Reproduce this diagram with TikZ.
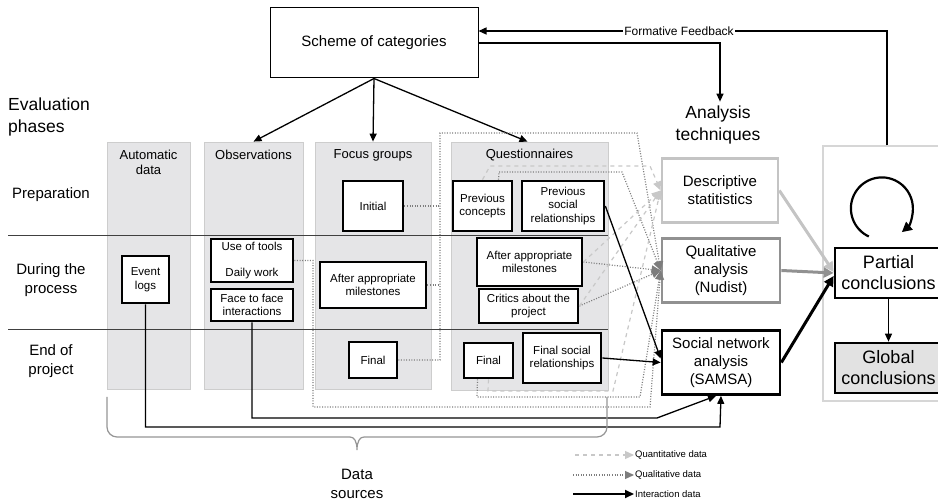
\documentclass[tikz,border=0pt]{standalone}
\usepackage{fontspec}
\setmainfont{Liberation Sans}
\usetikzlibrary{arrows.meta}
\definecolor{panelfill}{RGB}{229,229,231}
\definecolor{panelline}{RGB}{205,205,205}
\definecolor{qntc}{RGB}{200,200,200}
\definecolor{qltc}{RGB}{125,125,125}
\definecolor{descc}{RGB}{196,196,196}
\definecolor{qualc}{RGB}{145,145,145}
\definecolor{rpanel}{RGB}{214,214,214}
\definecolor{globfill}{RGB}{226,226,226}
\definecolor{bracec}{RGB}{150,150,150}
\begin{document}
\begin{tikzpicture}[x=1pt,y=-1pt,
  panel/.style={draw=panelline, line width=0.8pt, fill=panelfill, inner sep=0pt},
  ptitle/.style={font=\fontsize{13}{15}\selectfont, align=center, inner sep=0pt},
  bx/.style={draw=black, line width=2.7pt, fill=white, align=center, inner sep=1pt, font=\fontsize{11.5}{13.5}\selectfont},
  an/.style={line width=2.7pt, fill=white, align=center, inner sep=1pt, font=\fontsize{15}{18}\selectfont, minimum height=64pt},
  lbl/.style={font=\fontsize{15}{19}\selectfont, align=center, inner sep=0pt},
  hdr/.style={font=\fontsize{17.5}{22}\selectfont, inner sep=2pt},
  tip/.style={-{Triangle[length=8pt,width=7pt]}},
  qlt/.style={draw=qltc, line width=1.2pt, dash pattern=on 1pt off 1.6pt},
  qlta/.style={qlt, -{Triangle[length=9pt,width=8pt,fill=qltc]}},
  qnt/.style={draw=qntc, line width=1.2pt, dash pattern=on 4pt off 4pt},
  qnta/.style={qnt, -{Triangle[length=9pt,width=8pt,fill=qntc]}},
  ia/.style={draw=black, line width=1.3pt, -{Triangle[length=8pt,width=7pt]}},
  lgd/.style={font=\fontsize{9.5}{11}\selectfont, inner sep=1pt, anchor=west}
]
\fill[white] (0,0) rectangle (938,502);
\useasboundingbox (0,0) rectangle (938,502);

% ---------- top ----------
\node[draw=black, line width=1pt, minimum width=208pt, minimum height=70pt, font=\fontsize{15}{18}\selectfont] (scheme) at (374,43) {Scheme of categories};
\node[hdr, align=left, anchor=west] (evph) at (6,117) {Evaluation\\phases};
\node[hdr, align=center, inner sep=4pt] (atech) at (718,125) {Analysis\\techniques};

% ---------- panels ----------
\node[panel, minimum width=83pt, minimum height=247pt] (pAuto) at (148.5,265.5) {};
\node[panel, minimum width=99pt, minimum height=247pt] (pObs) at (253.5,265.5) {};
\node[panel, minimum width=116pt, minimum height=247pt] (pFocus) at (373,265.5) {};
\node[panel, minimum width=157pt, minimum height=248pt] (pQuest) at (529.5,266) {};
\node[ptitle] (tAuto) at (148.5,162.5) {Automatic\\data};
\node[ptitle] (tObs) at (253.5,155) {Observations};
\node[ptitle] (tFocus) at (373,155) {Focus groups};
\node[ptitle] (tQuest) at (529.5,155) {Questionnaires};

% phase separators
\draw[black!75, line width=0.9pt] (8,235) -- (608,235);
\draw[black!75, line width=0.9pt] (8,329) -- (608,329);
\node[lbl] (lPrep) at (51,195) {Preparation};
\node[lbl] (lDur) at (51,280) {During the\\process};
\node[lbl] (lEnd) at (51,361) {End of\\project};

% scheme arrows
\draw[line width=1.3pt, tip] (scheme.south) -- (pObs.north);
\draw[line width=1.3pt, tip] (scheme.south) -- (pFocus.north);
\draw[line width=1.3pt, tip] (scheme.south) -- ([xshift=-2pt]pQuest.north);

% ---------- analysis side ----------
\node[draw=rpanel, line width=1.2pt, fill=white, minimum width=122pt, minimum height=255pt] (rp) at (884,273.5) {};
\node[an, draw=descc, minimum width=116pt] (desc) at (720,190.5) {Descriptive\\statitistics};
\node[an, draw=qualc, minimum width=118pt] (qual) at (721,270.5) {Qualitative\\analysis\\(Nudist)};
\node[an, draw=black, minimum width=118pt] (sna) at (721,362.5) {Social network\\analysis\\(SAMSA)};
\node[draw=black, line width=2.7pt, fill=white, minimum width=107pt, minimum height=50pt, align=center, inner sep=1pt, font=\fontsize{18}{21}\selectfont] (partial) at (888.5,273) {Partial\\conclusions};
\node[draw=black, line width=2.7pt, fill=globfill, minimum width=107pt, minimum height=50pt, align=center, inner sep=1pt, font=\fontsize{18}{21}\selectfont] (global) at (888.5,368) {Global\\conclusions};

% feedback loops
\coordinate (fbR) at (887,31);
\draw[line width=1.3pt, tip] (rp.north -| fbR) -- (fbR) -- (scheme.east |- fbR);
\node[fill=white, inner sep=1pt, font=\fontsize{12}{14}\selectfont] (fbl) at (679,31) {Formative Feedback};
\draw[line width=1.3pt, tip] (scheme.east) -| ([xshift=2pt]atech.north);

% self loop
\draw[line width=2.2pt, -{Triangle[length=10pt,width=10pt]}] (868.8,236.5) arc[start angle=245, end angle=-50, radius=31pt];

\draw[line width=1.3pt, tip] (partial.south) -- (global.north);
\draw[draw=descc, line width=3pt, -{Triangle[length=10pt,width=10pt,fill=descc]}] (desc.east) -- ([yshift=1pt]partial.west);
\draw[draw=qualc, line width=3pt, -{Triangle[length=10pt,width=10pt,fill=qualc]}] (qual.east) -- (partial.west);
\draw[draw=black, line width=3pt, -{Triangle[length=10pt,width=10pt]}] (sna.east) -- ([yshift=-3pt]partial.west);

% ---------- data boxes ----------
\node[bx, minimum width=60pt, minimum height=50pt] (init) at (373,206) {Initial};
\node[bx, minimum width=47pt, minimum height=47pt] (evlog) at (145.5,279.5) {Event\\logs};
\node[bx, minimum width=82pt, minimum height=43pt] (tools) at (252,260.5) {Use of tools\\[13pt]Daily work};
\node[bx, minimum width=82pt, minimum height=32pt] (face) at (252,305) {Face to face\\interactions};
\node[bx, minimum width=106pt, minimum height=46pt] (fafter) at (373,285) {After appropriate\\milestones};
\node[bx, minimum width=48pt, minimum height=36pt] (ffinal) at (373,360) {Final};
\node[bx, minimum width=59pt, minimum height=50pt] (prevc) at (482.5,206) {Previous\\concepts};
\node[bx, minimum width=82pt, minimum height=50pt] (prevs) at (563,206) {Previous\\social\\relationships};
\node[bx, minimum width=105pt, minimum height=48pt] (qafter) at (529.5,262) {After appropriate\\milestones};
\node[bx, minimum width=99pt, minimum height=34pt] (critics) at (528.5,306) {Critics about the\\project};
\node[bx, minimum width=49pt, minimum height=35pt] (qfinal) at (488.5,360.5) {Final};
\node[bx, minimum width=78pt, minimum height=50pt] (fsoc) at (562,358) {Final social\\relationships};

% ---------- qualitative data (dotted) ----------
\coordinate (fcB) at (440,360);
\coordinate (fcT) at (440,133);
\coordinate (fcR) at (637,133);
\draw[qlt] (init.east) -- (init.east -| fcT);
\draw[qlt] (fafter.east) -- (fafter.east -| fcT);
\draw[qlta] (ffinal.east) -- (fcB) -- (fcT) -- (fcR) -- (qual.west);

\coordinate (obA) at (313,263);
\coordinate (obB) at (313,407);
\coordinate (obC) at (650,407);
\draw[qlta] (tools.east) -- (tools.east -| obA) -- (obB) -- (obC) -- (qual.west);

\coordinate (pcA) at (499,172);
\coordinate (pcB) at (622,172);
\draw[qlta] ([xshift=16pt]prevc.north) -- (pcA) -- (pcB) -- (qual.west);
\draw[qlta] (qafter.east) -- (qual.west);
\draw[qlta] (critics.east) -- (qual.west);

\coordinate (qfA) at (477,397);
\coordinate (qfB) at (640,397);
\draw[qlta] ([xshift=-11pt]qfinal.south) -- (qfA) -- (qfB) -- (qual.west);

% ---------- quantitative data (dashed) ----------
\coordinate (qnA) at (490,166);
\coordinate (qnB) at (650,166);
\draw[qnta] (prevc.north) -- (qnA) -- (qnB) -- (desc.west);
\coordinate (qnC) at (488,391);
\coordinate (qnD) at (613,391);
\draw[qnta] (qfinal.south) -- (qnC) -- (qnD) -- (desc.west);
\draw[qnta] (qafter.east) -- (desc.west);
\draw[qnta] (critics.east) -- (desc.west);

% ---------- interaction data ----------
\draw[ia] (prevs.east) -- ([yshift=4pt]sna.west);
\draw[ia] (fsoc.east) -- (sna.west);
\coordinate (evA) at (145.5,427);
\coordinate (evB) at (720,427);
\draw[ia] (evlog.south) -- (evA) -- (evB) -- (sna.south);
\coordinate (ffA) at (252,418);
\coordinate (ffB) at (657,418);
\draw[ia] (face.south) -- (ffA) -- (ffB) -- ([xshift=-5pt]sna.south);

% ---------- brace ----------
\draw[bracec, line width=1.2pt, rounded corners=10pt] (107,397) -- (107,437) -- (350,437);
\draw[bracec, line width=1.2pt] (350,437) .. controls (354,437) and (357,441) .. (357,450) .. controls (357,441) and (360,437) .. (364,437);
\draw[bracec, line width=1.2pt, rounded corners=10pt] (364,437) -- (607,437) -- (607,397);
\node[lbl] (dsrc) at (357,484) {Data\\sources};

% ---------- legend ----------
\node[lgd] (lq) at (634,455) {Quantitative data};
\node[lgd] (ll) at (634,475) {Qualitative data};
\node[lgd] (li) at (634,494) {Interaction data};
\coordinate (lqs) at (575,455);
\coordinate (lls) at (573,475);
\coordinate (lis) at (573,494);
\draw[qnta] (lqs) -- (lq.west);
\draw[qlta] (lls) -- (ll.west);
\draw[line width=2pt, -{Triangle[length=9pt,width=8pt]}] (lis) -- (li.west);
\end{tikzpicture}
\end{document}
